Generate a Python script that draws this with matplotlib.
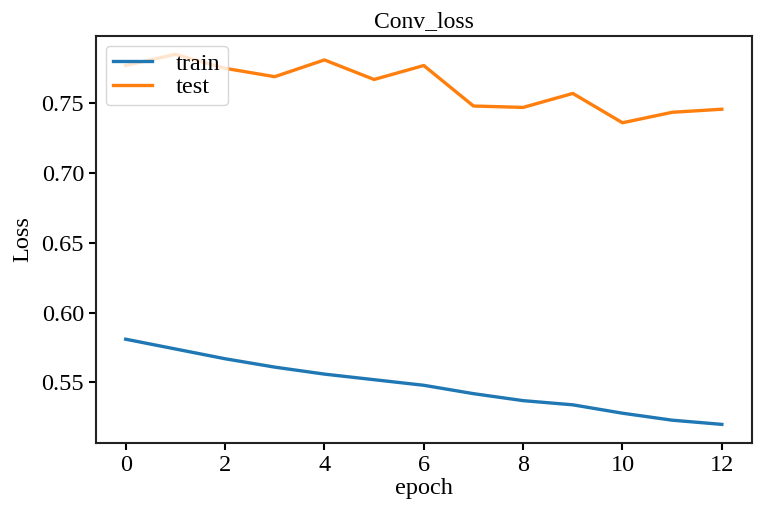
import matplotlib
matplotlib.use('Agg')
from matplotlib import pyplot as plt

epochs = list(range(13))
train_loss = [0.581, 0.574, 0.567, 0.561, 0.556, 0.552, 0.548, 0.542,
              0.537, 0.534, 0.528, 0.523, 0.520]
test_loss = [0.777, 0.785, 0.775, 0.769, 0.781, 0.767, 0.777, 0.748,
             0.747, 0.757, 0.736, 0.7435, 0.7457]

plt.rcParams['font.family'] = ['Liberation Serif', 'DejaVu Serif']
plt.rcParams['font.size'] = 17.5

fig = plt.figure(figsize=(7.67, 5.12), dpi=100)
ax = fig.add_axes([0.125, 0.135, 0.855, 0.795])
ax.plot(epochs, train_loss, color='#1f77b4', linewidth=2.4, label='train')
ax.plot(epochs, test_loss, color='#ff7f0e', linewidth=2.4, label='test')
ax.set_title('Conv_loss', fontsize=17)
ax.set_xlabel('epoch', fontsize=17.5, labelpad=2)
ax.set_ylabel('Loss', fontsize=17.5, labelpad=6)
ax.set_xticks([0, 2, 4, 6, 8, 10, 12])
ax.set_yticks([0.55, 0.60, 0.65, 0.70, 0.75])
ax.tick_params(labelsize=17.5, width=1.5, length=5)
for s in ax.spines.values():
    s.set_linewidth(1.5)
    s.set_color('#222222')
ax.legend(loc='upper left', fontsize=17.5, borderaxespad=0.4,
          handlelength=1.6, borderpad=0.3, labelspacing=0.05,
          handletextpad=1.0)
plt.savefig('out.png')
